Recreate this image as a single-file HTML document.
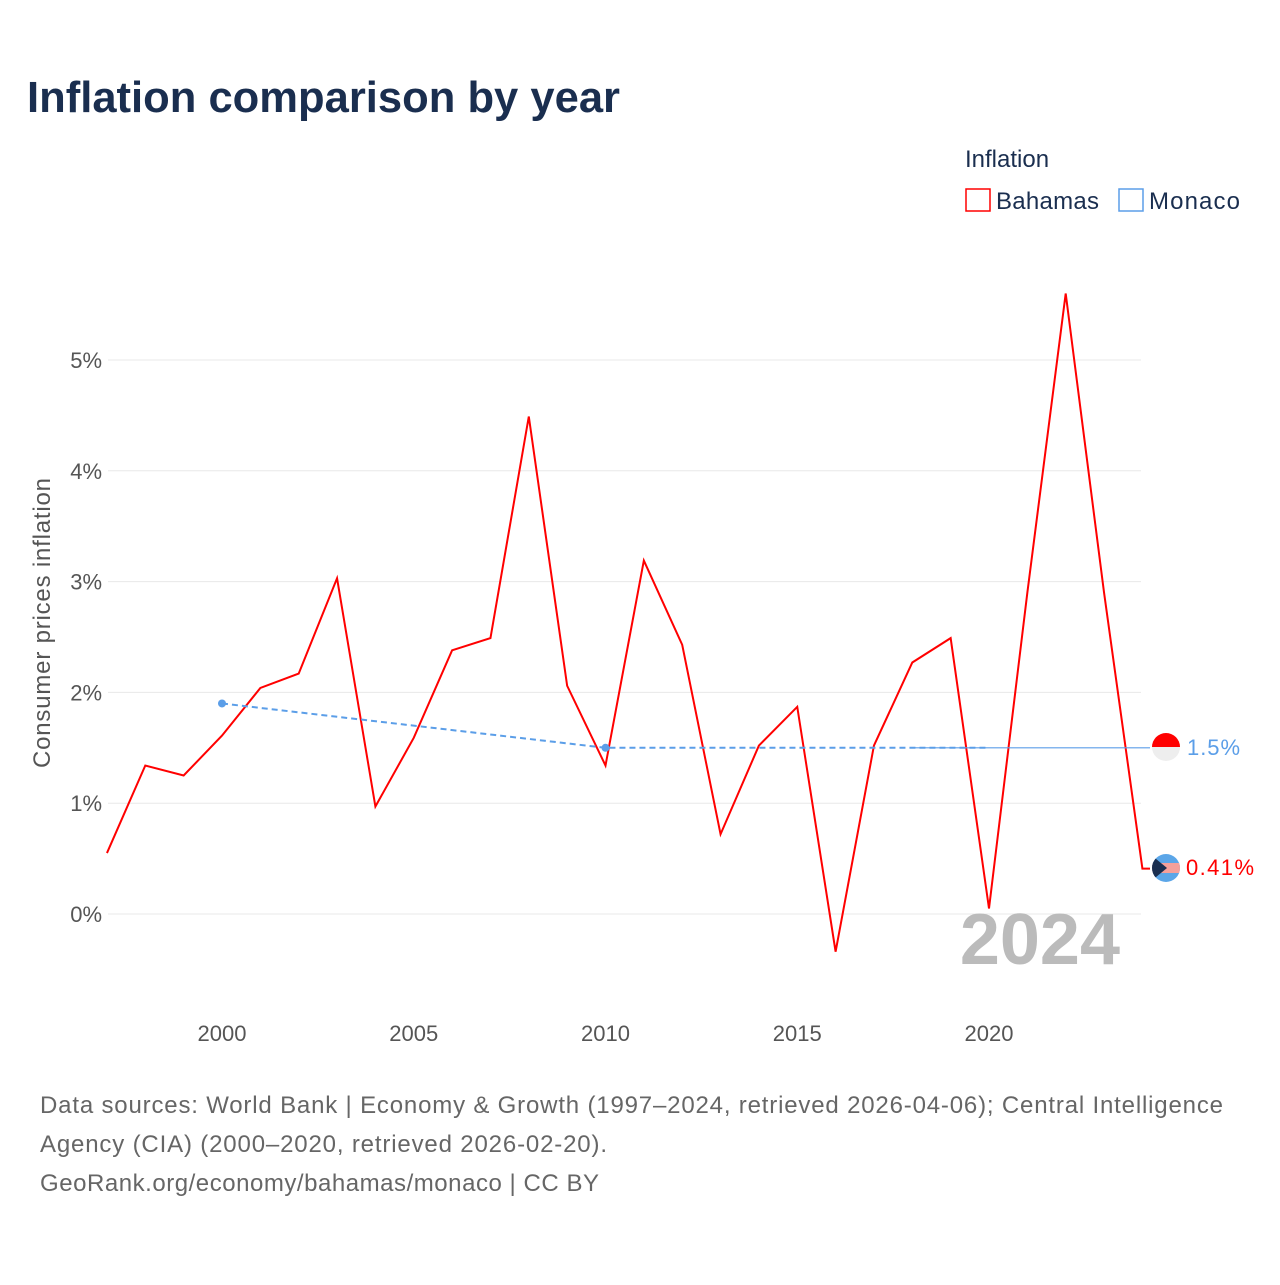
<!DOCTYPE html>
<html><head><meta charset="utf-8"><style>
body{margin:0;background:#fff;font-family:"Liberation Sans",sans-serif;}
</style></head><body>
<svg width="1280" height="1280" xmlns="http://www.w3.org/2000/svg" font-family="Liberation Sans, sans-serif">
<text x="27" y="112" font-size="44" font-weight="bold" fill="#1a2e4f" textLength="593" lengthAdjust="spacingAndGlyphs">Inflation comparison by year</text>
<text x="965" y="167" font-size="24" fill="#1a2e4f">Inflation</text>
<g><rect x="966" y="189" width="24" height="22" fill="none" stroke="#ff0000" stroke-width="1.5"/><text x="996" y="209" font-size="24" fill="#1a2e4f" textLength="103">Bahamas</text></g>
<g><rect x="1119" y="189" width="24" height="22" fill="none" stroke="#5b9ee8" stroke-width="1.5"/><text x="1149" y="209" font-size="24" fill="#1a2e4f" textLength="91">Monaco</text></g>
<g id="grid"></g><g id="xt"></g><g id="yt"></g>
<text transform="translate(50,623) rotate(-90)" text-anchor="middle" font-size="24" fill="#555" textLength="290">Consumer prices inflation</text>
<text x="1120" y="964" text-anchor="end" font-size="72" font-weight="bold" fill="#bbb">2024</text>
<g id="series"></g>
<g><clipPath id="c1"><circle cx="1166" cy="747" r="14"/></clipPath><g clip-path="url(#c1)"><rect x="1150" y="733" width="32" height="14" fill="#ff0000"/><rect x="1150" y="747" width="32" height="14" fill="#eee"/></g><text x="1187" y="755" font-size="22" fill="#5b9ee8" textLength="53">1.5%</text></g>
<g><clipPath id="c2"><circle cx="1166" cy="868" r="14"/></clipPath><g clip-path="url(#c2)"><rect x="1150" y="854" width="32" height="28" fill="#5ba6e8"/><rect x="1150" y="863" width="32" height="10" fill="#f5a09a"/><polygon points="1150,854 1167,868 1150,882" fill="#1a2e4f"/></g><text x="1186" y="875" font-size="22" fill="#ff0000" textLength="68">0.41%</text></g>
<text x="40" y="1113" font-size="24" fill="#666" textLength="1183">Data sources: World Bank | Economy &amp; Growth (1997–2024, retrieved 2026-04-06); Central Intelligence</text>
<text x="40" y="1152" font-size="24" fill="#666" textLength="567">Agency (CIA) (2000–2020, retrieved 2026-02-20).</text>
<text x="40" y="1191" font-size="24" fill="#666" textLength="559">GeoRank.org/economy/bahamas/monaco | CC BY</text>
</svg>
<script>
const years=[1997,1998,1999,2000,2001,2002,2003,2004,2005,2006,2007,2008,2009,2010,2011,2012,2013,2014,2015,2016,2017,2018,2019,2020,2021,2022,2023,2024];
const bahamas=[0.55,1.34,1.25,1.61,2.04,2.17,3.03,0.97,1.59,2.38,2.49,4.49,2.06,1.34,3.19,2.43,0.72,1.52,1.87,-0.34,1.52,2.27,2.49,0.05,2.9,5.6,2.9,0.41];
const monacoYears=[2000,2010,2020];
const monaco=[1.9,1.5,1.5];
const yTicks=[0,1,2,3,4,5];
const xTicks=[2000,2005,2010,2015,2020];
const NS='http://www.w3.org/2000/svg';
const X=y=>222+(y-2000)*38.35, Y=v=>914-v*110.8;
function mk(t,a,p){const e=document.createElementNS(NS,t);for(const k in a)e.setAttribute(k,a[k]);document.getElementById(p).appendChild(e);return e;}
yTicks.forEach(v=>{const l=mk('line',{x1:108,x2:1141,y1:Y(v),y2:Y(v),stroke:'#e8e8e8'},'grid');


const t=mk('text',{x:102,y:Y(v)+8,'text-anchor':'end','font-size':22,fill:'#555'},'yt');t.textContent=v+'%';

});
xTicks.forEach(v=>{const t=mk('text',{x:X(v),y:1041,'text-anchor':'middle','font-size':22,fill:'#555'},'xt');t.textContent=v;

});
const bp=years.map((y,i)=>X(y)+','+Y(bahamas[i])).join(' ')+' 1150,'+Y(bahamas[bahamas.length-1]);
const b=mk('polyline',{points:bp,fill:'none',stroke:'#ff0000','stroke-width':2},'series');


const mp=monacoYears.map((y,i)=>X(y)+','+Y(monaco[i])).join(' ');
const m=mk('polyline',{points:mp,fill:'none',stroke:'#5b9ee8','stroke-width':2,'stroke-dasharray':'6,4'},'series');


const last=monaco[monaco.length-1];
const ms=mk('line',{x1:X(2018),x2:1150,y1:Y(last),y2:Y(last),stroke:'#5b9ee8','stroke-width':1.2},'series');


monacoYears.slice(0,2).forEach((y,i)=>{const c=mk('circle',{cx:X(y),cy:Y(monaco[i]),r:4,fill:'#5b9ee8'},'series');

});
</script>
</body></html>
